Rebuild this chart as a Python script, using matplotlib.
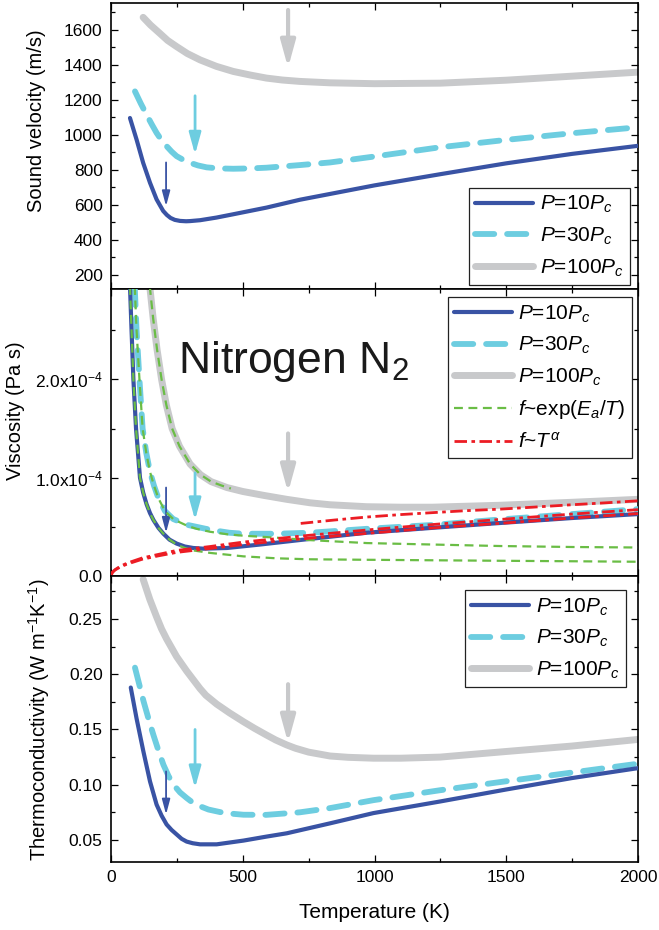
import matplotlib
matplotlib.use("Agg")
import matplotlib.pyplot as plt
from matplotlib.ticker import MultipleLocator, FuncFormatter

plt.rcParams["font.family"] = ["Liberation Sans", "DejaVu Sans"]
plt.rcParams["mathtext.fontset"] = "custom"
plt.rcParams["mathtext.rm"] = "Liberation Sans"
plt.rcParams["mathtext.it"] = "Liberation Sans:italic"
plt.rcParams["mathtext.bf"] = "Liberation Sans:bold"

# --- sound velocity (m/s) ---
T_sv_10 = [72, 97, 122, 148, 173, 198, 212, 226, 242, 262, 285, 300, 338, 400, 464, 590, 717, 831, 1000, 1250, 1500, 1750, 2000]
sv_10 = [1097, 974, 841, 727, 632, 566, 543, 526, 515, 509, 507, 508, 513, 528, 547, 585, 630, 663, 712, 776, 838, 892, 938]
T_sv_30 = [91, 113, 135, 155, 173, 192, 211, 230, 249, 275, 300, 330, 363, 410, 464, 530, 590, 717, 831, 1000, 1250, 1500, 1750, 2000]
sv_30 = [1249, 1180, 1116, 1060, 1012, 970, 936, 905, 879, 857, 841, 826, 815, 809, 807, 809, 813, 828, 843, 877, 930, 972, 1010, 1044]
T_sv_100 = [122, 150, 185, 215, 249, 290, 338, 400, 464, 530, 590, 650, 717, 831, 1000, 1250, 1500, 1750, 2000]
sv_100 = [1672, 1628, 1581, 1540, 1505, 1465, 1429, 1392, 1363, 1342, 1325, 1314, 1306, 1298, 1293, 1296, 1313, 1336, 1359]

# --- viscosity (1e-4 Pa s) ---
T_vi_10 = [72, 78, 85, 95, 110, 122, 135, 148, 161, 180, 199, 222, 249, 280, 312, 350, 440, 565, 730, 970, 1220, 1480, 1750, 2000]
vi_10 = [2.95, 2.5, 2.0, 1.5, 1.0, 0.85, 0.73, 0.64, 0.57, 0.49, 0.43, 0.37, 0.33, 0.30, 0.285, 0.278, 0.285, 0.32, 0.37, 0.44, 0.49, 0.54, 0.59, 0.63]
T_vi_30 = [90, 97, 108, 120, 134, 148, 163, 180, 205, 236, 262, 290, 325, 360, 401, 450, 502, 628, 755, 971, 1223, 1476, 1750, 2000]
vi_30 = [2.95, 2.5, 2.0, 1.5, 1.25, 1.06, 0.92, 0.79, 0.66, 0.58, 0.55, 0.52, 0.50, 0.48, 0.46, 0.44, 0.43, 0.43, 0.44, 0.48, 0.52, 0.575, 0.63, 0.68]
T_vi_100 = [147, 160, 175, 192, 210, 232, 260, 300, 340, 380, 440, 500, 580, 667, 755, 830, 970, 1100, 1220, 1480, 1750, 2000]
vi_100 = [2.95, 2.62, 2.3, 2.0, 1.74, 1.5, 1.32, 1.14, 1.03, 0.96, 0.90, 0.86, 0.82, 0.78, 0.745, 0.725, 0.705, 0.70, 0.70, 0.72, 0.75, 0.78]

# fits f ~ exp(Ea/T)
T_gr_10 = [72, 78, 85, 95, 110, 122, 135, 148, 161, 180, 199, 222, 249, 280, 312, 376, 502, 628, 755, 971, 1220, 1476, 1750, 2000]
gr_10 = [2.95, 2.5, 2.0, 1.5, 1.0, 0.85, 0.73, 0.64, 0.57, 0.49, 0.43, 0.37, 0.32, 0.285, 0.26, 0.235, 0.20, 0.18, 0.17, 0.165, 0.16, 0.155, 0.15, 0.145]
T_gr_30 = [90, 97, 108, 120, 134, 148, 163, 180, 205, 236, 262, 290, 325, 376, 440, 502, 628, 755, 971, 1223, 1476, 1750, 2000]
gr_30 = [2.95, 2.5, 2.0, 1.5, 1.25, 1.06, 0.92, 0.79, 0.66, 0.58, 0.545, 0.51, 0.48, 0.45, 0.425, 0.41, 0.39, 0.365, 0.335, 0.32, 0.305, 0.295, 0.29]
T_gr_100 = [147, 160, 175, 192, 210, 232, 260, 300, 340, 380, 420, 455]
gr_100 = [2.95, 2.62, 2.3, 2.0, 1.74, 1.5, 1.32, 1.14, 1.03, 0.96, 0.92, 0.89]

# fits f ~ T^alpha
T_rd = [0, 5, 15, 34, 60, 118, 180, 249, 376, 502, 628, 755, 1000, 1250, 1500, 1750, 2000]
rd_10 = [0, 0.035, 0.06, 0.09, 0.12, 0.17, 0.205, 0.24, 0.28, 0.32, 0.355, 0.385, 0.44, 0.495, 0.54, 0.59, 0.635]
rd_30 = [0, 0.037, 0.064, 0.097, 0.13, 0.183, 0.22, 0.26, 0.30, 0.345, 0.38, 0.415, 0.475, 0.53, 0.58, 0.63, 0.675]
T_rd_100 = [720, 850, 971, 1100, 1223, 1350, 1476, 1600, 1750, 1880, 2000]
rd_100 = [0.535, 0.57, 0.60, 0.625, 0.645, 0.665, 0.68, 0.70, 0.725, 0.745, 0.765]

# --- thermoconductivity (W m-1 K-1) ---
T_tc_10 = [75, 97, 123, 148, 173, 192, 211, 230, 249, 268, 287, 310, 338, 401, 503, 590, 667, 831, 996, 1249, 1496, 1749, 2000]
tc_10 = [0.188, 0.160, 0.130, 0.103, 0.082, 0.072, 0.064, 0.059, 0.055, 0.051, 0.0485, 0.047, 0.046, 0.046, 0.0494, 0.053, 0.056, 0.065, 0.0743, 0.0848, 0.0955, 0.106, 0.115]
T_tc_30 = [91, 107, 123, 142, 161, 180, 199, 218, 237, 262, 287, 310, 338, 370, 414, 460, 503, 590, 717, 831, 996, 1249, 1496, 1749, 2000]
tc_30 = [0.206, 0.191, 0.176, 0.160, 0.145, 0.131, 0.118, 0.108, 0.100, 0.093, 0.088, 0.0838, 0.0805, 0.0775, 0.0752, 0.0737, 0.0728, 0.0727, 0.075, 0.0788, 0.086, 0.095, 0.103, 0.111, 0.119]
T_tc_100 = [122, 147, 173, 192, 211, 249, 287, 338, 360, 401, 450, 503, 545, 590, 625, 667, 700, 750, 831, 900, 996, 1100, 1249, 1496, 1749, 2000]
tc_100 = [0.286, 0.268, 0.252, 0.241, 0.232, 0.216, 0.203, 0.187, 0.181, 0.173, 0.165, 0.157, 0.151, 0.145, 0.1405, 0.136, 0.133, 0.1295, 0.126, 0.1248, 0.124, 0.124, 0.125, 0.130, 0.135, 0.141]

# arrows: temperature, start, tip  (order: 10Pc, 30Pc, 100Pc)
arrow_T = [209, 319, 672]
arrow_sv = [(843, 593), (1224, 889), (1714, 1384)]
arrow_vi = [(0.90, 0.44), (1.05, 0.57), (1.45, 0.85)]
arrow_tc = [(0.112, 0.073), (0.150, 0.097), (0.191, 0.138)]

BLUE = "#3953a4"
CYAN = "#6dcde0"
GRAY = "#c8c9cb"
GREEN = "#6abd45"
RED = "#ec1c24"
labels = [r"$P$=10$P_c$", r"$P$=30$P_c$", r"$P$=100$P_c$"]

fig = plt.figure(figsize=(6.59, 9.30), dpi=100)
L, W = 111 / 659, 527 / 659
ax1 = fig.add_axes([L, 1 - 289 / 930, W, 286 / 930])
ax2 = fig.add_axes([L, 1 - 576 / 930, W, 287 / 930])
ax3 = fig.add_axes([L, 1 - 862 / 930, W, 286 / 930])


def main_lines(ax, xs, ys, scale=1.0):
    ax.plot(xs[2], [v * scale for v in ys[2]], color=GRAY, lw=5, solid_capstyle="round", label=labels[2], zorder=2)
    ax.plot(xs[1], [v * scale for v in ys[1]], color=CYAN, lw=4.2, dashes=(3.3, 2.2), dash_capstyle="round", label=labels[1], zorder=3)
    ax.plot(xs[0], [v * scale for v in ys[0]], color=BLUE, lw=3, solid_capstyle="round", label=labels[0], zorder=4)


def arrows(ax, pts, scale=1.0):
    styles = [(BLUE, 1.3, 0.45, 0.12), (CYAN, 2.0, 0.65, 0.18), (GRAY, 3.0, 0.8, 0.22)]
    for T, (a, b), (c, lw, hl, hw) in zip(arrow_T, pts, styles):
        ax.annotate("", xy=(T, b * scale), xytext=(T, a * scale),
                    arrowprops=dict(arrowstyle=f"-|>,head_length={hl},head_width={hw}",
                                    color=c, lw=lw, mutation_scale=20, shrinkA=0, shrinkB=0),
                    zorder=5)


def style(ax):
    ax.set_xlim(0, 2000)
    ax.xaxis.set_major_locator(MultipleLocator(500))
    ax.xaxis.set_minor_locator(MultipleLocator(250))
    ax.tick_params(which="both", direction="in", top=True, right=True, width=0.9, labelsize=12.5, pad=6)
    ax.tick_params(which="major", length=5)
    ax.tick_params(which="minor", length=3)
    for s in ax.spines.values():
        s.set_linewidth(1.2)


def legend(ax, handles, loc, anchor):
    lg = ax.legend(handles=handles, loc=loc, bbox_to_anchor=anchor, borderaxespad=0,
                   fontsize=15, handlelength=2.8, handletextpad=0.3, labelspacing=0.5,
                   borderpad=0.3, fancybox=False, framealpha=1, edgecolor="#222222")
    lg.get_frame().set_linewidth(0.9)
    return lg


# top: sound velocity
main_lines(ax1, [T_sv_10, T_sv_30, T_sv_100], [sv_10, sv_30, sv_100])
arrows(ax1, arrow_sv)
style(ax1)
ax1.set_ylim(120, 1754)
ax1.yaxis.set_major_locator(MultipleLocator(200))
ax1.yaxis.set_minor_locator(MultipleLocator(100))
ax1.tick_params(labelbottom=False)
ax1.set_ylabel("Sound velocity (m/s)", fontsize=14.5)
ax1.yaxis.set_label_coords(-0.123, 0.59)
h, _ = ax1.get_legend_handles_labels()
legend(ax1, [h[2], h[1], h[0]], "lower right", ((630 - 111) / 527, 4 / 286))

# middle: viscosity
main_lines(ax2, [T_vi_10, T_vi_30, T_vi_100], [vi_10, vi_30, vi_100], 1e-4)
g1, = ax2.plot(T_gr_10, [v * 1e-4 for v in gr_10], color=GREEN, lw=1.6, dashes=(4, 2.5), zorder=6,
               label=r"$f$~exp($E_a$/$T$)")
ax2.plot(T_gr_30, [v * 1e-4 for v in gr_30], color=GREEN, lw=1.6, dashes=(4, 2.5), zorder=6)
ax2.plot(T_gr_100, [v * 1e-4 for v in gr_100], color=GREEN, lw=1.6, dashes=(4, 2.5), zorder=6)
r1, = ax2.plot(T_rd, [v * 1e-4 for v in rd_10], color=RED, lw=2.0, dashes=(4.5, 1.6, 1.3, 1.6), zorder=7,
               label=r"$f$~$T^{\alpha}$")
ax2.plot(T_rd, [v * 1e-4 for v in rd_30], color=RED, lw=2.0, dashes=(4.5, 1.6, 1.3, 1.6), zorder=7)
ax2.plot(T_rd_100, [v * 1e-4 for v in rd_100], color=RED, lw=2.0, dashes=(4.5, 1.6, 1.3, 1.6), zorder=7)
arrows(ax2, arrow_vi, 1e-4)
style(ax2)
ax2.set_ylim(0, 2.92e-4)
ax2.yaxis.set_major_locator(MultipleLocator(1e-4))
ax2.yaxis.set_minor_locator(MultipleLocator(0.5e-4))
ax2.yaxis.set_major_formatter(FuncFormatter(
    lambda v, p: "0.0" if abs(v) < 1e-9 else r"%.1fx10$^{-4}$" % (v / 1e-4)))
ax2.tick_params(labelbottom=False)
ax2.set_ylabel("Viscosity (Pa s)", fontsize=14.5)
ax2.yaxis.set_label_coords(-0.163, 0.575)
h, _ = ax2.get_legend_handles_labels()
legend(ax2, [h[2], h[1], h[0], g1, r1], "upper right", ((632 - 111) / 527, (576 - 297) / 287))
ax2.text(0.127, 0.707, r"Nitrogen N$_2$", transform=ax2.transAxes, fontsize=32, va="baseline", color="#1a1a1a")

# bottom: thermoconductivity
main_lines(ax3, [T_tc_10, T_tc_30, T_tc_100], [tc_10, tc_30, tc_100])
arrows(ax3, arrow_tc)
style(ax3)
ax3.set_ylim(0.03, 0.289)
ax3.yaxis.set_major_locator(MultipleLocator(0.05))
ax3.yaxis.set_minor_locator(MultipleLocator(0.025))
ax3.yaxis.set_major_formatter(FuncFormatter(lambda v, p: "%.2f" % v))
ax3.set_ylabel(r"Thermoconductivity (W m$^{-1}$K$^{-1}$)", fontsize=14.5)
ax3.yaxis.set_label_coords(-0.112, 0.497)
ax3.set_xlabel("Temperature (K)", fontsize=15, labelpad=13)
h, _ = ax3.get_legend_handles_labels()
legend(ax3, [h[2], h[1], h[0]], "upper right", ((626 - 111) / 527, (862 - 590) / 286))

fig.savefig("out.png", dpi=100)
